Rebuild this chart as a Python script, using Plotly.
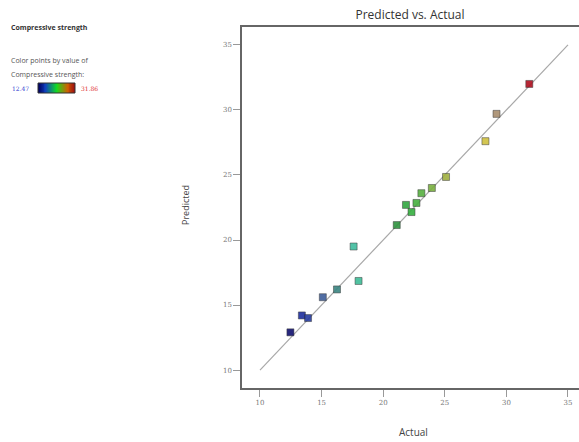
import plotly.graph_objects as go
import numpy as np

actual = [12.47, 13.4, 13.9, 15.1, 16.25, 17.6, 18.0, 21.1, 21.85, 22.3, 22.7, 23.1, 23.95, 25.1, 28.3, 29.2, 31.86]
predicted = [12.9, 14.2, 14.0, 15.6, 16.2, 19.5, 16.85, 21.15, 22.7, 22.15, 22.85, 23.6, 24.0, 24.85, 27.6, 29.7, 32.0]
x_ticks = [10, 15, 20, 25, 30, 35]
y_ticks = [10, 15, 20, 25, 30, 35]
line_pts = [10, 35]
cmin, cmax = 12.47, 31.86

# point colour scale (as seen on the markers)
cscale = [[0.0, "#101070"], [0.05, "#2030a0"], [0.14, "#40609a"], [0.2, "#3a8a80"],
          [0.27, "#40c0a0"], [0.44, "#309040"], [0.5, "#30b040"], [0.6, "#80b040"],
          [0.65, "#a0b040"], [0.82, "#d0c040"], [0.86, "#a89070"], [1.0, "#b01020"]]
# legend swatch scale
bar_scale = [[0.0, "#000060"], [0.2, "#1040c0"], [0.5, "#10e020"], [0.8, "#d06000"], [1.0, "#a01010"]]

FIG_W = 592
W = 589.0
H = 361.0
def px(x):
    return x / W
def py(y):
    return (388 - y) / H

fig = go.Figure()
fig.add_trace(go.Scatter(x=line_pts, y=line_pts, mode="lines",
                         line=dict(color="#a8a8a8", width=1.2), hoverinfo="skip", showlegend=False))
fig.add_trace(go.Scatter(x=actual, y=predicted, mode="markers", showlegend=False,
                         marker=dict(symbol="square", size=7, color=actual, colorscale=cscale,
                                     cmin=cmin, cmax=cmax, opacity=0.9,
                                     line=dict(color="rgba(40,40,40,0.5)", width=1))))

axis_common = dict(showgrid=False, zeroline=False, showline=True, linecolor="#666", linewidth=1.5,
                   mirror=True, ticks="outside", ticklen=7, tickcolor="#999", tickwidth=1,
                   automargin=False,
                   tickfont=dict(family="DejaVu Serif", size=7, color="#777"))
fig.update_layout(
    width=FIG_W, height=442,
    margin=dict(l=0, r=FIG_W - W, t=27, b=54, autoexpand=False),
    paper_bgcolor="white", plot_bgcolor="white",
    title=dict(text="Predicted vs. Actual", x=410 / FIG_W, xanchor="center", y=0.967, yanchor="middle",
               font=dict(family="Open Sans", size=12, color="#333")),
    xaxis=dict(domain=[px(242), 1], range=[8.54, 8.54 + (W - 242) / 12.32], tickvals=x_ticks, **axis_common),
    yaxis=dict(range=[8.62, 36.38], tickvals=y_ticks, **axis_common),
)

# axis titles
fig.add_annotation(text="Actual", xref="paper", yref="paper", x=px(413), y=py(432),
                   xanchor="center", yanchor="middle", showarrow=False,
                   font=dict(family="Open Sans", size=10, color="#444"))
fig.add_annotation(text="Predicted", xref="paper", yref="paper", x=px(186), y=py(205),
                   xanchor="center", yanchor="middle", showarrow=False, textangle=-90,
                   font=dict(family="Open Sans", size=9, color="#444"))

# legend-like annotations
fig.add_annotation(text="<b>Compressive strength</b>", xref="paper", yref="paper", x=px(9), y=py(28),
                   xanchor="left", yanchor="middle", showarrow=False,
                   font=dict(family="Open Sans", size=7, color="#333"))
fig.add_annotation(text="Color points by value of", xref="paper", yref="paper", x=px(9), y=py(60),
                   xanchor="left", yanchor="middle", showarrow=False,
                   font=dict(family="Open Sans", size=7, color="#555"))
fig.add_annotation(text="Compressive strength:", xref="paper", yref="paper", x=px(9), y=py(74),
                   xanchor="left", yanchor="middle", showarrow=False,
                   font=dict(family="Open Sans", size=7, color="#555"))
fig.add_annotation(text=f"{cmin:.2f}", xref="paper", yref="paper", x=px(10), y=py(88),
                   xanchor="left", yanchor="middle", showarrow=False,
                   font=dict(family="DejaVu Serif", size=6, color="#3040d0"))
fig.add_annotation(text=f"{cmax:.2f}", xref="paper", yref="paper", x=px(79), y=py(88),
                   xanchor="left", yanchor="middle", showarrow=False,
                   font=dict(family="DejaVu Serif", size=6, color="#e03030"))

# color bar swatch built as a tiny heatmap in its own axis
fig.add_trace(go.Heatmap(z=[list(np.linspace(cmin, cmax, 40))], colorscale=bar_scale, showscale=False,
                         xaxis="x2", yaxis="y2", hoverinfo="skip"))
fig.update_layout(
    xaxis2=dict(domain=[px(38), px(75)], anchor="y2", visible=False),
    yaxis2=dict(domain=[py(93), py(83)], anchor="x2", visible=False),
)
fig.add_shape(type="rect", xref="paper", yref="paper", x0=px(38), x1=px(75), y0=py(93), y1=py(83),
              line=dict(color="#333", width=1))

fig.write_html("out.html", config={"displayModeBar": False},
               post_script="document.body.style.margin='0';document.body.style.overflow='hidden';")
